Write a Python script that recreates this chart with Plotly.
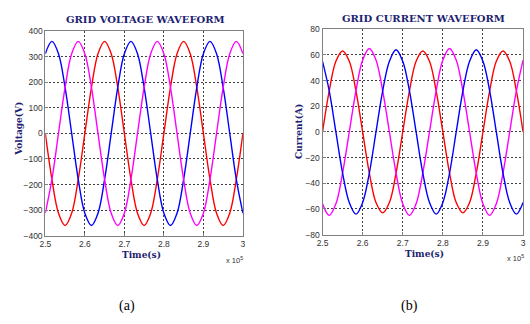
import plotly.graph_objects as go

# Time samples (x 10^5 s), every 1/12 of a cycle
time = [2.5, 2.5167, 2.5333, 2.55, 2.5667, 2.5833, 2.6, 2.6167, 2.6333, 2.65,
        2.6667, 2.6833, 2.7, 2.7167, 2.7333, 2.75, 2.7667, 2.7833, 2.8, 2.8167,
        2.8333, 2.85, 2.8667, 2.8833, 2.9, 2.9167, 2.9333, 2.95, 2.9667, 2.9833, 3.0]

# Grid voltage (V)
v_red = [0, -180, -312, -360, -312, -180, 0, 180, 312, 360, 312, 180, 0, -180, -312, -360,
         -312, -180, 0, 180, 312, 360, 312, 180, 0, -180, -312, -360, -312, -180, 0]
v_blue = [312, 360, 312, 180, 0, -180, -312, -360, -312, -180, 0, 180, 312, 360, 312, 180,
          0, -180, -312, -360, -312, -180, 0, 180, 312, 360, 312, 180, 0, -180, -312]
v_mag = [-312, -180, 0, 180, 312, 360, 312, 180, 0, -180, -312, -360, -312, -180, 0, 180,
         312, 360, 312, 180, 0, -180, -312, -360, -312, -180, 0, 180, 312, 360, 312]

# Grid current (A)
i_red = [0, 32, 55, 63, 55, 32, 0, -32, -55, -63, -55, -32, 0, 32, 55, 63,
         55, 32, 0, -32, -55, -63, -55, -32, 0, 32, 55, 63, 55, 32, 0]
i_mag = [-56, -65, -56, -32, 0, 32, 56, 65, 56, 32, 0, -32, -56, -65, -56, -32,
         0, 32, 56, 65, 56, 32, 0, -32, -56, -65, -56, -32, 0, 32, 56]
i_blue = [55, 32, 0, -32, -55, -64, -55, -32, 0, 32, 55, 64, 55, 32, 0, -32,
          -55, -64, -55, -32, 0, 32, 55, 64, 55, 32, 0, -32, -55, -64, -55]

x_ticks = [2.5, 2.6, 2.7, 2.8, 2.9, 3.0]
x_ticktext = ["2.5", "2.6", "2.7", "2.8", "2.9", "3"]
v_ticks = [-400, -300, -200, -100, 0, 100, 200, 300, 400]
i_ticks = [-80, -60, -40, -20, 0, 20, 40, 60, 80]

W, H = 530, 324
navy = "#1c2270"

fig = go.Figure()

def add(x, y, color, xa, ya):
    fig.add_trace(go.Scatter(x=x, y=y, mode="lines", xaxis=xa, yaxis=ya,
                             line=dict(color=color, width=1.4, shape="spline", smoothing=1),
                             showlegend=False, hoverinfo="skip"))

add(time, v_red, "#ff0000", "x", "y")
add(time, v_blue, "#0000ff", "x", "y")
add(time, v_mag, "#ff00ff", "x", "y")
add(time, i_red, "#ff0000", "x2", "y2")
add(time, i_mag, "#ff00ff", "x2", "y2")
add(time, i_blue, "#0000ff", "x2", "y2")

axis_common = dict(showline=True, mirror=True, linecolor="#808080", linewidth=1,
                   showgrid=True, gridcolor="#404040", gridwidth=1, griddash="2px,2px",
                   zeroline=False, ticks="inside", ticklen=3, tickcolor="#808080",
                   tickfont=dict(family="Liberation Sans, Arial, sans-serif", size=8.5, color="#333333"))

ax_a = (40 / W, 241 / W)
ay_a = (1 - 238 / H, 1 - 27 / H)
ax_b = (322 / W, 526 / W)
ay_b = (1 - 237 / H, 1 - 25 / H)

fig.update_layout(
    width=W, height=H, margin=dict(l=0, r=0, t=0, b=0),
    paper_bgcolor="white", plot_bgcolor="white",
    xaxis=dict(domain=ax_a, range=[2.5, 3.0], tickvals=x_ticks, ticktext=x_ticktext,
               anchor="y", **axis_common),
    yaxis=dict(domain=ay_a, range=[-400, 400], tickvals=v_ticks, anchor="x", **axis_common),
    xaxis2=dict(domain=ax_b, range=[2.5, 3.0], tickvals=x_ticks, ticktext=x_ticktext,
                anchor="y2", **axis_common),
    yaxis2=dict(domain=ay_b, range=[-80, 80], tickvals=i_ticks, anchor="x2", **axis_common),
)

heavy = "DejaVu Serif, serif"
serif = "Liberation Serif, Times New Roman, serif"

def ann(text, xp, yp, size, color=navy, bold=True, angle=0, family=heavy, xanchor="center"):
    fig.add_annotation(text=("<b>%s</b>" % text) if bold else text,
                       x=xp / W, y=1 - yp / H, xref="paper", yref="paper",
                       showarrow=False, textangle=angle, xanchor=xanchor, yanchor="middle",
                       font=dict(family=family, size=size, color=color))

ann("GRID VOLTAGE WAVEFORM", 142, 15, 10)
ann("GRID CURRENT WAVEFORM", 425, 14, 10)
ann("Voltage(V)", 13, 128, 9, angle=-90)
ann("Current(A)", 298, 130, 9, angle=-90)
ann("Time(s)", 138, 258, 9)
ann("Time(s)", 426, 257, 9)
ann("x 10<sup>5</sup>", 222, 263, 7.5, color="#333333", bold=False,
    family="Liberation Sans, Arial, sans-serif", xanchor="left")
ann("x 10<sup>5</sup>", 529, 261, 7.5, color="#333333", bold=False,
    family="Liberation Sans, Arial, sans-serif", xanchor="right")
ann("(a)", 123, 311, 14, color="black", bold=False, family=serif)
ann("(b)", 410, 311, 14, color="black", bold=False, family=serif)

fig.write_html("out.html", config={"displayModeBar": False},
               post_script="document.body.style.margin='0';document.body.style.padding='0';")
